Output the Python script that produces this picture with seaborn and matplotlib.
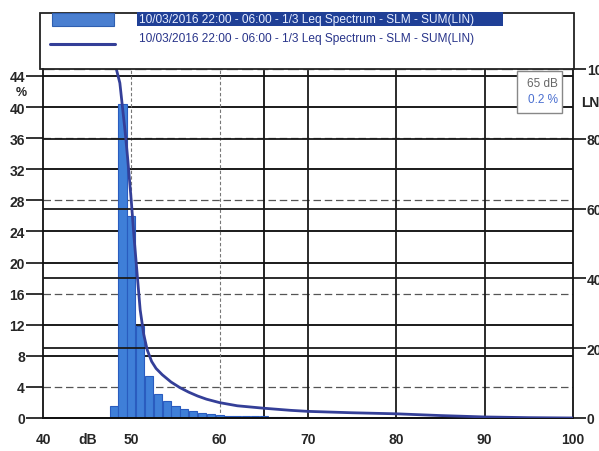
import matplotlib
matplotlib.use("Agg")
import matplotlib.pyplot as plt
import seaborn as sns
from matplotlib.patches import Rectangle
from matplotlib.lines import Line2D

# level distribution, 1 dB classes (percent of time)
levels_db = [48, 49, 50, 51, 52, 53, 54, 55, 56, 57, 58, 59, 60, 61, 62, 63, 64, 65, 66, 67]
share_pct = [1.5, 40.4, 26.0, 11.8, 5.4, 3.1, 2.2, 1.6, 1.2, 0.9, 0.7, 0.5, 0.4, 0.3,
             0.25, 0.2, 0.2, 0.2, 0.15, 0.1]

# cumulative LN curve (right axis)
curve_db = [48.3, 48.7, 49.0, 49.3, 49.6, 50.0, 50.3, 50.6, 51.0, 51.4, 51.8, 52.3, 52.8,
            53.5, 54.5, 55.5, 56.5, 57.5, 58.5, 60, 62, 65, 68, 70, 75, 80, 85, 90, 95, 100]
curve_ln = [100, 96, 89, 82, 74, 62, 52, 43, 31, 24, 19.5, 16.2, 14.2,
            12.4, 10.3, 8.7, 7.4, 6.3, 5.4, 4.4, 3.5, 2.8, 2.2, 1.9, 1.5, 1.2, 0.7, 0.3, 0.1, 0]

left_ticks = list(range(0, 45, 4))
right_ticks = [0, 20, 40, 60, 80, 100]
x_ticks = [40, 50, 60, 70, 80, 90, 100]
series_label = "10/03/2016 22:00 - 06:00 - 1/3 Leq Spectrum - SLM - SUM(LIN)"

sns.set_style("white")
plt.rcParams["font.family"] = ["Liberation Sans", "DejaVu Sans"]

fig = plt.figure(figsize=(5.99, 4.52), dpi=100)
ax = fig.add_axes([43 / 599, 1 - 419 / 452, 530 / 599, 349 / 452])
ax2 = ax.twinx()

ax.set_xlim(40, 100)
ax.set_ylim(0, 44.9)
ax2.set_ylim(0, 100)

# grid, the scan shows a mix of solid and broken lines
for v in left_ticks[1:]:
    if v in (4, 16, 28, 36):
        ax.axhline(v, color="#555555", lw=0.9, ls=(0, (6, 3)), zorder=0)
    else:
        ax.axhline(v, color="#1a1a1a", lw=1.4, zorder=0)
for v in right_ticks[1:-1]:
    ax2.axhline(v, color="#1a1a1a", lw=1.3, zorder=0)
for v in x_ticks[1:-1]:
    if v in (50, 60):
        ax.axvline(v, color="#777777", lw=0.8, ls=(0, (3, 2)), zorder=0)
    else:
        ax.axvline(v, color="#1a1a1a", lw=1.3, zorder=0)
ax.axvline(65, color="#111111", lw=1.3, zorder=0)  # cursor

sns.histplot(x=levels_db, weights=share_pct, discrete=True, shrink=0.92, ax=ax,
             color="#3f7fd8", edgecolor="#2a5cbf", linewidth=0.8, alpha=1.0, zorder=2)
sns.lineplot(x=curve_db, y=curve_ln, ax=ax2, color="#343f98", lw=2.0, zorder=3)

ax.set_xlabel("")
ax.set_ylabel("")
ax2.set_ylabel("")

ax.set_xticks(x_ticks)
ax.set_yticks(left_ticks)
ax2.set_yticks(right_ticks)
tick_font = dict(fontsize=10, fontweight="bold")
ax.set_xticklabels([str(t) for t in x_ticks], **tick_font)
ax.set_yticklabels([str(t) for t in left_ticks], **tick_font)
ax2.set_yticklabels([str(t) for t in right_ticks], **tick_font)
ax.tick_params(axis="y", direction="out", length=12, width=1.2, color="#111111", pad=1)
ax.tick_params(axis="x", direction="inout", length=12, width=1.2, color="#111111", pad=4)
ax2.tick_params(axis="y", direction="out", length=9, width=1.2, color="#111111", pad=1)

for a in (ax, ax2):
    for side in ("left", "right", "bottom"):
        a.spines[side].set_color("#111111")
        a.spines[side].set_linewidth(1.3)
    a.spines["top"].set_visible(False)
ax.spines["right"].set_visible(False)
ax2.spines["left"].set_visible(False)
ax.axhline(44.9, color="#777777", lw=1.0, ls=(0, (8, 3)), zorder=1)

# unit labels
fig.text(21 / 599, 1 - 93 / 452, "%", fontsize=9, fontweight="bold", ha="center", va="center")
fig.text(88 / 599, 1 - 440 / 452, "dB", fontsize=10, fontweight="bold", ha="center", va="center")
fig.text(581 / 599, 1 - 103 / 452, "LN", fontsize=10, fontweight="bold", ha="left", va="center")

# legend frame above the plot
fig.patches.append(Rectangle((40 / 599, 1 - 70 / 452), 534 / 599, 56 / 452,
                             transform=fig.transFigure, fill=False,
                             edgecolor="#222222", lw=1.3))
fig.patches.append(Rectangle((52 / 599, 1 - 27 / 452), 62 / 599, 13 / 452,
                             transform=fig.transFigure, facecolor="#4a7fd0",
                             edgecolor="#2f5fb0", lw=0.8))
fig.patches.append(Rectangle((137 / 599, 1 - 27 / 452), 366 / 599, 14 / 452,
                             transform=fig.transFigure, facecolor="#1f3f96",
                             edgecolor="none"))
fig.text(139 / 599, 1 - 20 / 452, series_label, fontsize=8.6, color="#e8eeff",
         ha="left", va="center")
fig.lines.append(Line2D([50 / 599, 115 / 599], [1 - 45 / 452, 1 - 45 / 452],
                        transform=fig.transFigure, color="#343f98", lw=2.2))
fig.text(139 / 599, 1 - 39 / 452, series_label, fontsize=8.6, color="#28348a",
         ha="left", va="center")

# cursor readout box
fig.patches.append(Rectangle((517 / 599, 1 - 114 / 452), 45 / 599, 42 / 452,
                             transform=fig.transFigure, facecolor="white",
                             edgecolor="#888888", lw=1.0, zorder=5))
fig.text(558 / 599, 1 - 84 / 452, "65 dB", fontsize=8.5, color="#666666",
         ha="right", va="center", zorder=6)
fig.text(558 / 599, 1 - 100 / 452, "0.2 %", fontsize=8.5, color="#4a6fd0",
         ha="right", va="center", zorder=6)

fig.savefig("out.png", dpi=100)
plt.close(fig)
